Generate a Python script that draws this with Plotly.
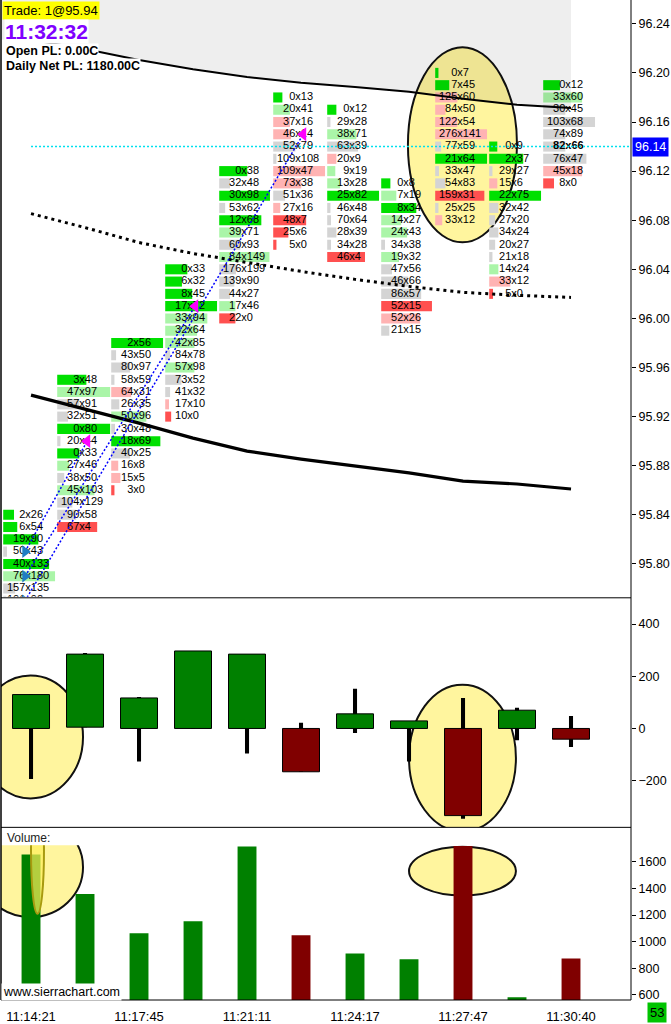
import plotly.graph_objects as go

# ---- bars / time axis ----
bar_idx = list(range(11))
tick_bars = [0, 2, 4, 6, 8, 10]
tick_times = ["11:14:21", "11:17:45", "11:21:11", "11:24:17", "11:27:47", "11:30:40"]

# ---- numbers bars: bid x ask per price tick, highest price first ----
tick_size = 0.01
col_top = [95.84, 95.95, 95.98, 96.04, 96.12, 96.18, 96.17, 96.11, 96.20, 96.14, 96.19]
bids = [
    [2, 6, 19, 50, 40, 76, 157, 101],
    [3, 47, 57, 32, 0, 20, 0, 27, 38, 45, 104, 90, 67],
    [2, 43, 80, 58, 64, 26, 50, 30, 18, 40, 16, 15, 3],
    [0, 6, 8, 17, 33, 32, 42, 84, 57, 73, 41, 17, 10],
    [0, 32, 30, 53, 12, 39, 60, 84, 176, 139, 44, 17, 22],
    [0, 20, 37, 46, 52, 109, 109, 73, 51, 27, 48, 25, 5],
    [0, 29, 38, 63, 20, 9, 13, 25, 46, 70, 28, 34, 46],
    [0, 7, 8, 14, 24, 34, 19, 47, 46, 86, 52, 52, 21],
    [0, 7, 125, 84, 122, 276, 77, 21, 33, 54, 159, 25, 33],
    [0, 2, 29, 15, 22, 32, 27, 34, 20, 21, 14, 33, 5],
    [0, 33, 30, 103, 74, 82, 76, 45, 8],
]
asks = [
    [26, 54, 90, 43, 133, 180, 135, 92],
    [48, 97, 91, 51, 80, 44, 33, 46, 50, 103, 129, 58, 4],
    [56, 50, 97, 59, 31, 35, 96, 48, 69, 25, 8, 5, 0],
    [33, 32, 45, 72, 94, 64, 85, 78, 98, 52, 32, 10, 0],
    [38, 48, 98, 62, 68, 71, 93, 149, 199, 90, 27, 46, 0],
    [13, 41, 16, 14, 79, 108, 47, 38, 36, 16, 7, 6, 0],
    [12, 28, 71, 39, 9, 19, 28, 82, 48, 64, 39, 28, 4],
    [8, 19, 34, 27, 43, 38, 32, 56, 66, 57, 15, 26, 15],
    [7, 45, 60, 50, 54, 141, 59, 64, 47, 83, 31, 25, 12],
    [9, 37, 27, 6, 75, 42, 20, 24, 27, 18, 24, 12, 0],
    [12, 60, 45, 68, 89, 66, 47, 18, 0],
]
# cell shading: G strong buy, g buy, n neutral, r sell, R strong sell
shades = [
    "GGGnGgnn",
    "GgnnGnGgngnnR",
    "GnnnrngnGnrrR",
    "GGGGgggngnnrR",
    "GnGnGgngnnngR",
    "GgrrnnrrnrRRR",
    "GngnrggGnnnnR",
    "GgGggngnnnRrn",
    "GGrrrrnGnnRnr",
    "GGnrGnnnnngrR",
    "GgnnnnnrR",
]
# length of the shaded cell bar, % of the column
depth = [
    [20, 26, 65, 7, 85, 96, 22, 6],
    [54, 98, 41, 20, 98, 6, 41, 22, 13, 69, 28, 35, 74],
    [96, 9, 35, 6, 37, 15, 65, 7, 91, 35, 13, 17, 6],
    [41, 31, 50, 96, 78, 59, 54, 9, 54, 30, 9, 7, 11],
    [52, 20, 94, 11, 78, 41, 39, 93, 31, 28, 20, 30, 30],
    [17, 31, 31, 33, 41, 6, 96, 52, 22, 13, 61, 28, 6],
    [17, 6, 54, 57, 17, 15, 24, 96, 6, 7, 17, 7, 70],
    [17, 28, 65, 37, 48, 7, 33, 20, 50, 74, 94, 72, 15],
    [6, 26, 41, 19, 41, 96, 11, 96, 7, 19, 91, 6, 13],
    [15, 63, 6, 15, 96, 17, 11, 17, 11, 6, 17, 39, 7],
    [31, 72, 41, 96, 41, 41, 80, 72, 20],
]
last_price = 96.14

# ---- studies on the price graph ----
ma_upper = [96.227, 96.2195, 96.2106, 96.203, 96.1967, 96.1919, 96.1886, 96.1846, 96.1789, 96.174, 96.1715]
ma_dotted = [96.0854, 96.074, 96.0618, 96.0529, 96.0456, 96.0383, 96.0318, 96.0261, 96.0212, 96.0188, 96.0171]
ma_lower = [95.9375, 95.9261, 95.9147, 95.9025, 95.8919, 95.8854, 95.8797, 95.8741, 95.8675, 95.8651, 95.861]

# trades: entry (bar, price) -> exit (bar, price)
entry_bar = [0, 0, 0]
entry_px = [95.81, 95.79, 95.77]
exit_bar = [1, 3, 5]
exit_px = [95.90, 96.01, 96.15]

# ---- delta bars ----
delta_open = [0, 5, 0, 0, 0, 0, 0, 0, 0, 0, 0]
delta_close = [130, 285, 117, 297, 285, -166, 56, 29, -334, 70, -41]
delta_high = [130, 289, 121, 297, 285, 22, 152, 29, 117, 79, 48]
delta_low = [-194, 5, -127, 0, -96, -166, -17, -127, -346, -45, -71]

# ---- volume ----
volume = [1656, 1359, 1063, 1154, 1716, 1048, 911, 866, 1720, 580, 873]

# user drawn highlight ellipses: (axis, x0, x1, y0, y1)
highlights = [
    ("y", 6.98, 9.0, 96.062, 96.221),
    ("y2", -0.98, 0.963, -268, 203),
    ("y2", 7.0, 8.98, -395, 168),
    ("y3", -0.98, 0.963, 1185, 1935),
    ("y3", 7.0, 8.98, 1347, 1715),
]

FONT = "Liberation Sans, Arial, sans-serif"
SHADE = {"G": "#00e000", "g": "#aaf5a8", "n": "#d4d4d4", "r": "#ffb3b3", "R": "#ff5050"}
UP, DOWN = "#008000", "#800000"
ELLIPSE_FILL = "#fff59e"

# build the footprint cells
cell_y, cell_base, cell_len, cell_col = [], [], [], []
txt_x, txt_y, bid_txt, ask_txt = [], [], [], []
for i in bar_idx:
    for k, (b, a) in enumerate(zip(bids[i], asks[i])):
        p = round(col_top[i] - k * tick_size, 2)
        cell_y.append(p)
        cell_base.append(i - 0.515)
        cell_len.append(depth[i][k] / 100.0)
        cell_col.append(SHADE[shades[i][k]])
        txt_x.append(i - 0.105)
        txt_y.append(p)
        if i == bar_idx[-1] and p == last_price:
            bid_txt.append(f"<b>{b}</b>")
            ask_txt.append(f"<b>x{a}</b>")
        else:
            bid_txt.append(str(b))
            ask_txt.append(f"x{a}")

fig = go.Figure()

fig.add_trace(go.Bar(orientation="h", x=cell_len, y=cell_y, base=cell_base, width=0.0082,
                     marker=dict(color=cell_col, line_width=0), yaxis="y", hoverinfo="skip"))

# shaded region above the upper average
x_left = -0.556
fig.add_trace(go.Scatter(x=[x_left] + bar_idx + [bar_idx[-1], x_left],
                         y=[ma_upper[0]] + ma_upper + [96.3, 96.3],
                         fill="toself", fillcolor="rgba(0,0,0,0.065)", line=dict(width=0),
                         mode="lines", yaxis="y", hoverinfo="skip"))

fig.add_trace(go.Scatter(x=txt_x, y=txt_y, text=bid_txt, mode="text", textposition="middle left",
                         textfont=dict(family=FONT, size=11, color="black"), yaxis="y", hoverinfo="skip"))
fig.add_trace(go.Scatter(x=txt_x, y=txt_y, text=ask_txt, mode="text", textposition="middle right",
                         textfont=dict(family=FONT, size=11, color="black"), yaxis="y", hoverinfo="skip"))

fig.add_trace(go.Scatter(x=[0, 11.2], y=[last_price, last_price], mode="lines",
                         line=dict(color="#00e0ee", width=1.5, dash="2px,2px"), yaxis="y", hoverinfo="skip"))
fig.add_trace(go.Scatter(x=bar_idx, y=ma_upper, mode="lines", line=dict(color="black", width=2),
                         yaxis="y", hoverinfo="skip"))
fig.add_trace(go.Scatter(x=bar_idx, y=ma_dotted, mode="lines", line=dict(color="black", width=3, dash="3px,4px"),
                         yaxis="y", hoverinfo="skip"))
fig.add_trace(go.Scatter(x=bar_idx, y=ma_lower, mode="lines", line=dict(color="black", width=3.2),
                         yaxis="y", hoverinfo="skip"))

tl_x, tl_y = [], []
for eb, ep, xb, xp in zip(entry_bar, entry_px, exit_bar, exit_px):
    tl_x += [eb - 0.11, xb + 0.04, None]
    tl_y += [ep, xp, None]
fig.add_trace(go.Scatter(x=tl_x, y=tl_y, mode="lines", line=dict(color="#0000ff", width=1.5, dash="2px,2px"),
                         yaxis="y", hoverinfo="skip"))
fig.add_trace(go.Scatter(x=[b - 0.11 for b in entry_bar], y=entry_px, mode="markers",
                         marker=dict(symbol="triangle-right", size=11, color="#1f7dc4"), yaxis="y", hoverinfo="skip"))
fig.add_trace(go.Scatter(x=[b + 0.04 for b in exit_bar], y=exit_px, mode="markers",
                         marker=dict(symbol="triangle-left", size=12, color="#ff00ff"), yaxis="y", hoverinfo="skip"))

# delta candles: wick then body
fig.add_trace(go.Bar(x=bar_idx, y=[h - l for h, l in zip(delta_high, delta_low)], base=delta_low,
                     width=0.075, marker=dict(color="black", line_width=0), yaxis="y2", hoverinfo="skip"))
fig.add_trace(go.Bar(x=bar_idx, y=[c - o for c, o in zip(delta_close, delta_open)], base=delta_open,
                     width=0.685, marker=dict(color=[UP if c >= o else DOWN for c, o in zip(delta_close, delta_open)],
                                              line=dict(color="black", width=1)),
                     yaxis="y2", hoverinfo="skip"))

fig.add_trace(go.Bar(x=bar_idx, y=volume, width=0.35,
                     marker=dict(color=[UP if c >= o else DOWN for c, o in zip(delta_close, delta_open)], line_width=0),
                     yaxis="y3", hoverinfo="skip"))

shapes = []
for ax, x0, x1, y0, y1 in highlights:
    shapes.append(dict(type="circle", xref="x", yref=ax, x0=x0, x1=x1, y0=y0, y1=y1, layer="below",
                       fillcolor=ELLIPSE_FILL, line=dict(color="#111111", width=2)))
# narrow marker ellipse over the first volume bar
shapes.append(dict(type="circle", xref="x", yref="y3", x0=0.0, x1=0.24, y0=1210, y1=2150, layer="above",
                   fillcolor="rgba(255,240,90,0.7)", line=dict(color="#a89a10", width=2)))

H = 1002.0
for py in [599, 829]:
    shapes.append(dict(type="line", xref="paper", yref="paper", x0=0, x1=1, y0=1 - py / H, y1=1 - py / H,
                       line=dict(color="black", width=1)))
shapes.append(dict(type="line", xref="paper", yref="paper", x0=0, x1=1, y0=0, y1=0, line=dict(color="black", width=1)))
shapes.append(dict(type="line", xref="paper", yref="paper", x0=0, x1=0, y0=0, y1=1, line=dict(color="black", width=1.5)))
shapes.append(dict(type="line", xref="paper", yref="paper", x0=1, x1=1, y0=0, y1=1, line=dict(color="black", width=1)))


def px(x):
    return (x - 1) / 630.0


def py_(y):
    return 1 - y / H


annotations = [
    dict(text="Trade: 1@95.94", x=px(2), y=py_(11), xanchor="left", yanchor="middle", bgcolor="#ffff00",
         borderpad=1, font=dict(family=FONT, size=13, color="black")),
    dict(text="<b>11:32:32</b>", x=px(4), y=py_(32), xanchor="left", yanchor="middle", bgcolor="white",
         borderpad=0, font=dict(family=FONT, size=21, color="#8000ff")),
    dict(text="<b>Open PL: 0.00C</b>", x=px(5), y=py_(51), xanchor="left", yanchor="middle", bgcolor="white",
         borderpad=0, font=dict(family=FONT, size=12.5, color="black")),
    dict(text="<b>Daily Net PL: 1180.00C</b>", x=px(5), y=py_(66), xanchor="left", yanchor="middle",
         bgcolor="white", borderpad=0, font=dict(family=FONT, size=12.5, color="black")),
    dict(text="Volume:", x=px(5), y=py_(840), xanchor="left", yanchor="middle",
         font=dict(family=FONT, size=12, color="#222222")),
    dict(text="www.sierrachart.com", x=px(1), y=py_(994), xanchor="left", yanchor="middle", bgcolor="white",
         borderpad=1, font=dict(family=FONT, size=12.5, color="black")),
    dict(text=f"{last_price:.2f}", xref="paper", yref="y", x=1.0, y=last_price, xanchor="left", xshift=1,
         yanchor="middle", bgcolor="#0000ff", borderpad=2, font=dict(family=FONT, size=12.5, color="white")),
    dict(text="53", x=px(647), y=py_(1004), xanchor="left", yanchor="top", bgcolor="#00c400",
         borderpad=2, font=dict(family=FONT, size=13, color="black")),
]
for a in annotations:
    a.setdefault("xref", "paper")
    a.setdefault("yref", "paper")
    a["showarrow"] = False

axis_common = dict(side="right", anchor="x", showgrid=False, zeroline=False, ticks="outside", ticklen=4,
                   tickcolor="black", tickfont=dict(family=FONT, size=12.5, color="black"), fixedrange=True)

fig.update_layout(
    width=671, height=1024,
    margin=dict(l=1, r=40, t=0, b=22),
    paper_bgcolor="white", plot_bgcolor="white",
    showlegend=False, barmode="overlay", hovermode=False,
    xaxis=dict(domain=[0, 1], range=[-0.556, 11.111], anchor="y3", showgrid=False, zeroline=False,
               tickvals=tick_bars, ticktext=tick_times, ticks="outside", ticklen=4, tickcolor="white",
               fixedrange=True, tickfont=dict(family=FONT, size=13, color="black")),
    yaxis=dict(domain=[1 - 598 / H, 1], range=[95.7732, 96.2594], tick0=95.80, dtick=0.04, tickformat=".2f",
               **axis_common),
    yaxis2=dict(domain=[1 - 829 / H, 1 - 600 / H], range=[-379, 497], tick0=0, dtick=200, **axis_common),
    yaxis3=dict(domain=[0, 1 - 847 / H], range=[560, 1725], tick0=600, dtick=200, **axis_common),
    shapes=shapes,
    annotations=annotations,
)

fig.write_html("out.html", config={"displayModeBar": False},
               post_script="document.body.style.margin='0';")
